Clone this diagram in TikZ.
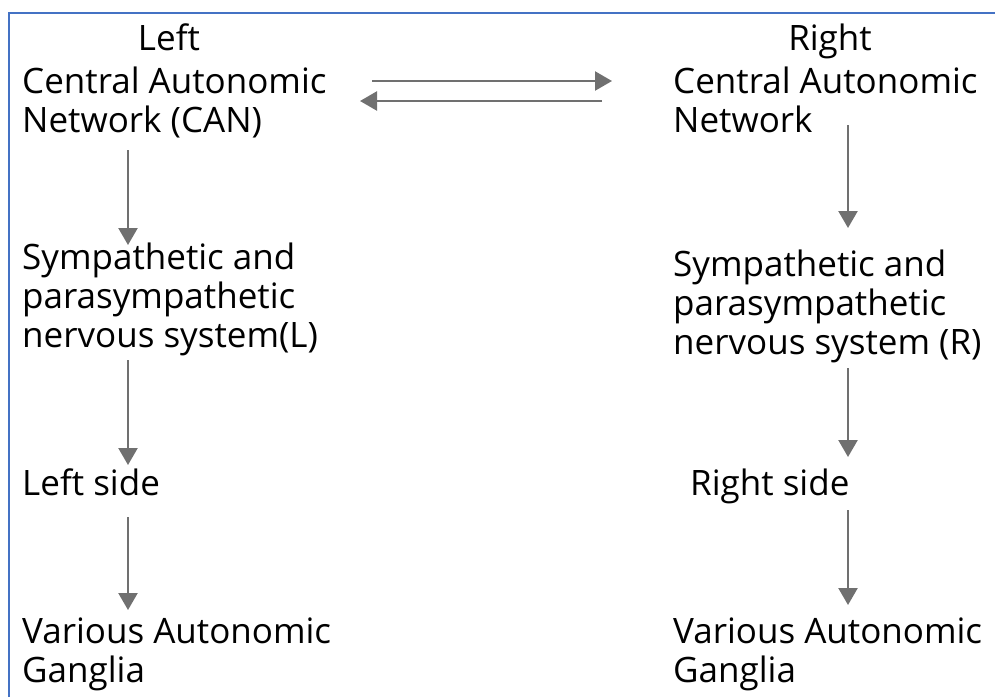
\documentclass[tikz,border=0pt]{standalone}
\usepackage{fontspec}
\setmainfont{Open Sans}
\usetikzlibrary{arrows.meta}
\definecolor{framebl}{RGB}{68,114,196}
\definecolor{arrgray}{RGB}{112,112,112}
\tikzset{
  lbl/.style={inner sep=0pt, anchor=base west, align=left,
    font=\fontsize{35}{39}\selectfont},
  arr/.style={draw=arrgray, line width=2.4pt,
    -{Triangle[width=19pt,length=17pt]}, arrgray},
}
\begin{document}
\begin{tikzpicture}[x=1pt,y=-1pt]
\useasboundingbox (0,0) rectangle (995,697);
\draw[framebl, line width=2pt] (9,697) -- (9,13) -- (995,13);
% left column (base = last line)
\node[lbl, anchor=base] (headL) at (169,50) {Left};
\node[lbl] (canL) at (22,132) {Central Autonomic\\Network (CAN)};
\node[lbl] (symL) at (22,347) {Sympathetic and\\parasympathetic\\nervous system(L)};
\node[lbl] (sideL) at (22,495) {Left side};
\node[lbl] (ganL) at (22,682) {Various Autonomic\\Ganglia};
% right column
\node[lbl, anchor=base] (headR) at (830,50) {Right};
\node[lbl] (canR) at (673,132) {Central Autonomic\\Network};
\node[lbl] (symR) at (673,354) {Sympathetic and\\parasympathetic\\nervous system (R)};
\node[lbl] (sideR) at (690,495) {Right side};
\node[lbl] (ganR) at (673,682) {Various Autonomic\\Ganglia};
% arrow columns
\coordinate (colL) at (128,0);
\coordinate (colR) at (848,0);
\coordinate (fwdA) at (372,81);
\coordinate (fwdB) at (612,81);
\coordinate (bckA) at (602,101);
\coordinate (bckB) at (360,101);
\draw[arr] (fwdA) -- (fwdB);
\draw[arr] (bckA) -- (bckB);
\draw[arr] (colL |- 0,150) -- (colL |- 0,245);
\draw[arr] (colL |- 0,360) -- (colL |- 0,465);
\draw[arr] (colL |- 0,517) -- (colL |- 0,610);
\draw[arr] (colR |- 0,125) -- (colR |- 0,228);
\draw[arr] (colR |- 0,368) -- (colR |- 0,457);
\draw[arr] (colR |- 0,510) -- (colR |- 0,605);
\end{tikzpicture}
\end{document}
